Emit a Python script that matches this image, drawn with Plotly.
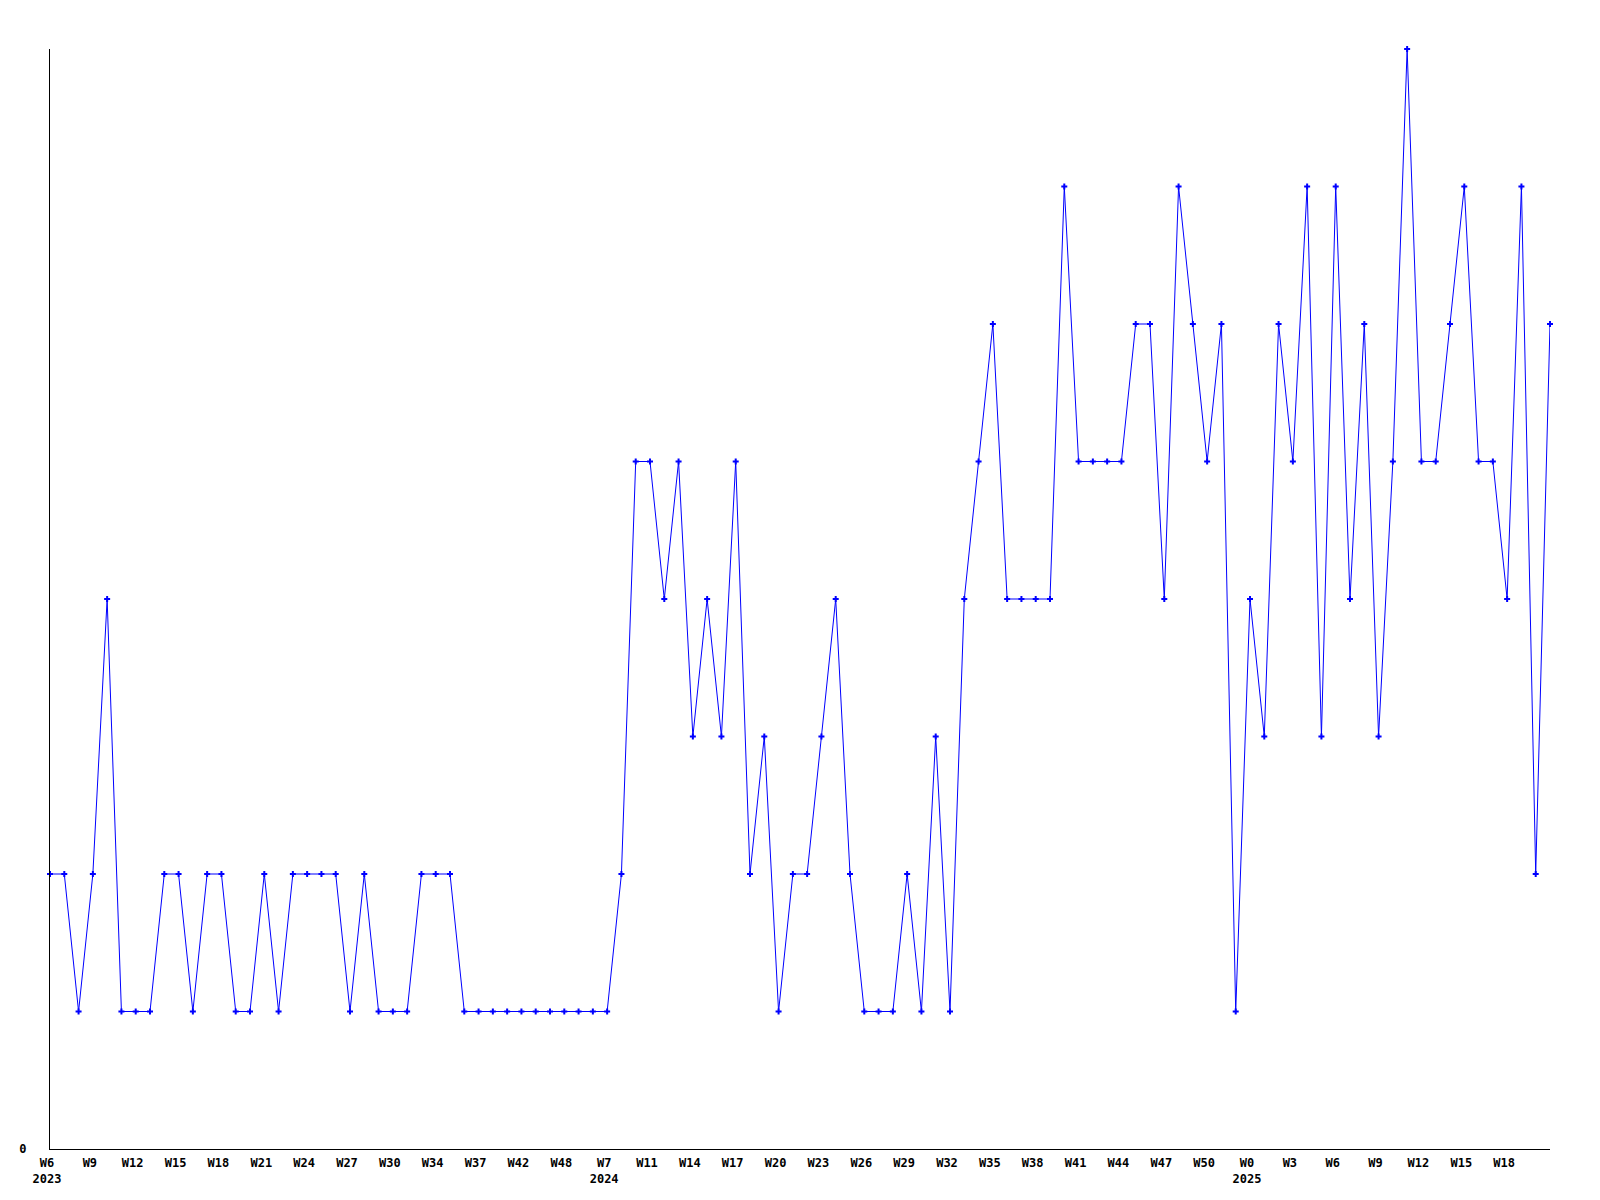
import plotly.graph_objects as go

# values per reporting week (equally spaced samples)
values = [
    2, 2, 1, 2, 4, 1, 1, 1, 2, 2,
    1, 2, 2, 1, 1, 2, 1, 2, 2, 2,
    2, 1, 2, 1, 1, 1, 2, 2, 2, 1,
    1, 1, 1, 1, 1, 1, 1, 1, 1, 1,
    2, 5, 5, 4, 5, 3, 4, 3, 5, 2,
    3, 1, 2, 2, 3, 4, 2, 1, 1, 1,
    2, 1, 3, 1, 4, 5, 6, 4, 4, 4,
    4, 7, 5, 5, 5, 5, 6, 6, 4, 7,
    6, 5, 6, 1, 4, 3, 6, 5, 7, 3,
    7, 4, 6, 3, 5, 8, 5, 5, 6, 7,
    5, 5, 4, 7, 2, 6,
]
x_index = list(range(len(values)))

# tick labels (every third sample is labelled)
tick_positions = [0, 3, 6, 9, 12, 15, 18, 21, 24, 27, 30, 33, 36,
                  39, 42, 45, 48, 51, 54, 57, 60, 63, 66, 69, 72, 75, 78, 81,
                  84, 87, 90, 93, 96, 99, 102]
tick_labels = ["W6<br>2023", "W9", "W12", "W15", "W18", "W21", "W24", "W27", "W30",
               "W34", "W37", "W42", "W48",
               "W7<br>2024", "W11", "W14", "W17", "W20", "W23", "W26", "W29", "W32",
               "W35", "W38", "W41", "W44", "W47", "W50",
               "W0<br>2025", "W3", "W6", "W9", "W12", "W15", "W18"]

font_family = "DejaVu Sans Mono"

fig = go.Figure()
fig.add_trace(go.Scatter(
    x=x_index, y=values,
    mode="lines+markers",
    line=dict(color="#0000ff", width=1),
    marker=dict(symbol="cross", size=5, color="#0000ff"),
    cliponaxis=False,
    showlegend=False,
))

fig.update_layout(
    width=1584, height=1184,
    margin=dict(l=42, r=42, t=41, b=43),
    paper_bgcolor="white",
    plot_bgcolor="white",
    font=dict(family=font_family, size=12, color="black", weight="bold"),
    xaxis=dict(
        range=[0, len(values) - 1],
        tickmode="array", tickvals=tick_positions, ticktext=tick_labels,
        showgrid=False, zeroline=False, automargin=False,
        showline=True, linecolor="black", linewidth=1,
        ticks="", ticklabelshift=-3, ticklabelstandoff=3,
        tickfont=dict(family=font_family, size=12, color="black", weight="bold"),
    ),
    yaxis=dict(
        range=[0, 8],
        tickmode="array", tickvals=[0], ticktext=["0"],
        showgrid=False, zeroline=False, automargin=False,
        showline=True, linecolor="black", linewidth=1,
        ticks="", ticklabelstandoff=20,
        tickfont=dict(family=font_family, size=12, color="black", weight="bold"),
    ),
)

fig.write_html("out.html")
